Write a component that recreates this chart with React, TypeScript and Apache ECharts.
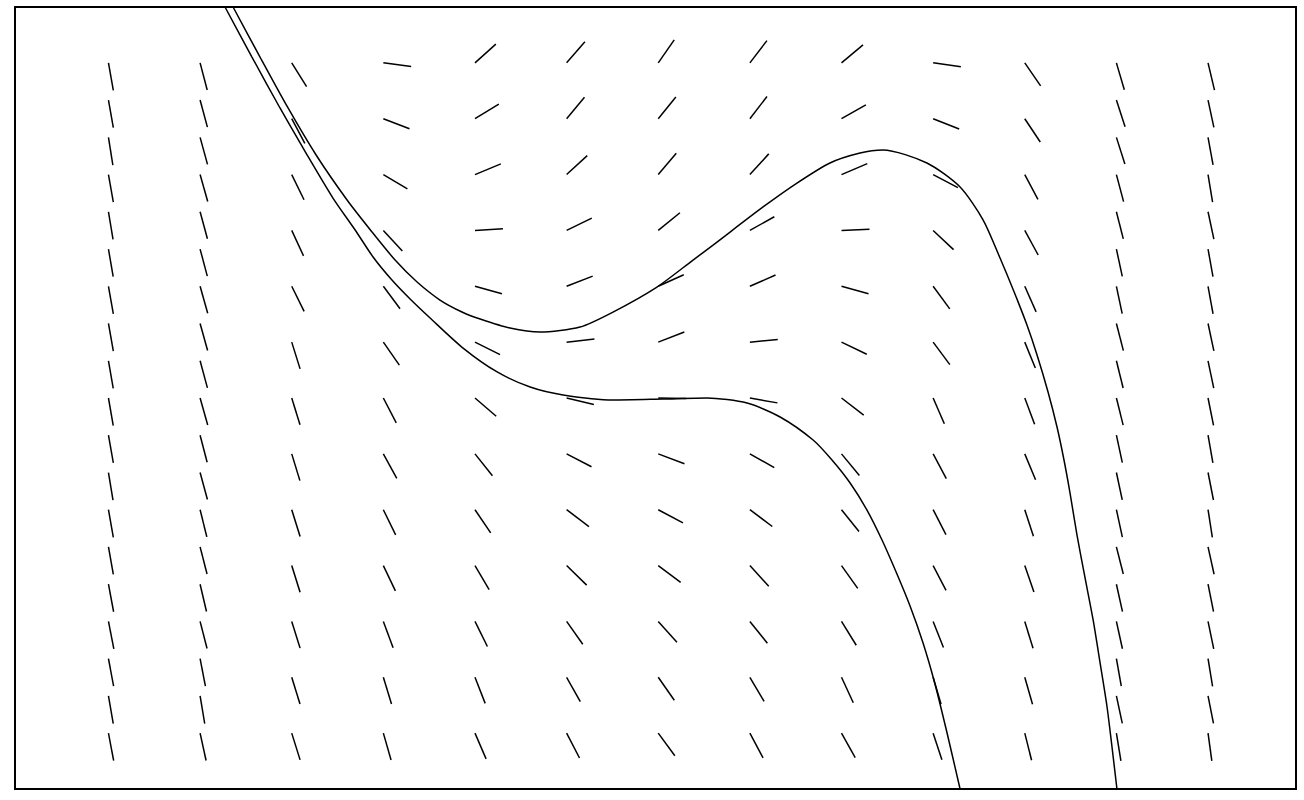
import React, { useEffect, useRef } from "react";
import * as echarts from "echarts";

// Grid of the slope field (data units)
const innerCols = [-2, -1.5, -1, -0.5, 0, 0.5, 1, 1.5, 2];
const innerRows = [3, 2.5, 2, 1.5, 1, 0.5, 0, -0.5, -1, -1.5, -2, -2.5, -3];
const outerCols = [-3, -2.5, 2.5, 3];
const outerRows = [
  3, 2.667, 2.333, 2, 1.667, 1.333, 1, 0.667, 0.333, 0,
  -0.333, -0.667, -1, -1.333, -1.667, -2, -2.333, -2.667, -3,
];

// Slopes (dy/dx) read at each grid point, top row first
const slopeXm3 = [-9.3, -9.3, -10.3, -9.3, -9.9, -9.6, -9.3, -9.3, -9.5, -9.5, -9.3, -10.0, -9.3, -9.3, -8.8, -8.4, -8.8, -9.5, -8.7];
const slopeXm25 = [-6.25, -6.06, -5.98, -5.8, -6.06, -6.17, -5.8, -5.9, -6.06, -5.8, -6.32, -6.06, -6.63, -6.4, -7.0, -6.4, -8.5, -9.8, -7.5];
const slopeXm2 = [-2.62, -3.1, -3.36, -3.54, -3.32, -5.24, -5.3, -5.37, -5.24, -5.24, -5.24, -5.3, -5.24];
const slopeXm15 = [-0.21, -0.63, -0.98, -1.78, -2.21, -2.36, -3.16, -3.0, -3.36, -3.44, -4.42, -5.4, -5.73];
const slopeXm1 = [1.47, 1.01, 0.68, 0.1, -0.46, -0.82, -1.41, -2.06, -2.42, -2.8, -3.32, -4.2, -3.8];
const slopeXm05 = [1.9, 1.98, 1.51, 0.8, 0.64, 0.19, -0.39, -0.85, -1.24, -1.6, -2.32, -2.93, -3.16];
const slopeX0 = [2.36, 2.03, 1.95, 1.34, 0.74, 0.64, -0.03, -0.62, -0.87, -1.23, -1.83, -2.34, -2.23];
const slopeX05 = [2.14, 2.13, 1.8, 0.92, 0.72, 0.16, -0.29, -0.92, -1.23, -1.8, -2.05, -2.78, -3.08];
const slopeX1 = [1.37, 0.93, 0.7, 0.07, -0.45, -0.79, -1.26, -1.98, -2.05, -2.31, -2.65, -3.54, -2.93];
const slopeX15 = [-0.23, -0.65, -0.87, -1.54, -2.23, -2.21, -3.77, -3.08, -3.19, -3.16, -4.14, -5.57, -4.98];
const slopeX2 = [-2.39, -2.47, -3.08, -3.01, -3.7, -4.04, -4.37, -3.93, -5.04, -4.75, -5.32, -5.7, -6.55];
const slopeX25 = [-5.57, -5.04, -5.16, -6.19, -6.47, -7.64, -7.78, -6.38, -6.63, -6.6, -7.6, -7.69, -7.53, -6.47, -7.37, -7.45, -9.28, -7.64, -10.07];
const slopeX3 = [-6.9, -7.7, -9.0, -10.0, -7.7, -9.2, -9.0, -7.7, -7.9, -8.2, -9.3, -8.3, -10.5, -7.4, -8.2, -7.9, -10.0, -8.3, -12.0];

const innerSlopes = [slopeXm2, slopeXm15, slopeXm1, slopeXm05, slopeX0, slopeX05, slopeX1, slopeX15, slopeX2];
const outerSlopes = [slopeXm3, slopeXm25, slopeX25, slopeX3];

// Solution curves (x, y)
const curveAX = [
  -2.32, -2.173, -2.02, -1.867, -1.698, -1.562, -1.436, -1.316, -1.191, -1.071, -0.972, -0.809,
  -0.645, -0.427, -0.247, -0.007, 0.19, 0.299, 0.572, 0.757, 0.937, 1.101, 1.226, 1.466, 1.647,
  1.773, 1.865, 1.942, 2.012, 2.067, 2.127, 2.176, 2.214, 2.247, 2.285, 2.329, 2.373, 2.411,
  2.449, 2.476, 2.503,
];
const curveAY = [
  3.5, 3.052, 2.596, 2.175, 1.772, 1.486, 1.235, 1.038, 0.877, 0.77, 0.707, 0.626,
  0.59, 0.635, 0.769, 0.993, 1.235, 1.369, 1.71, 1.924, 2.104, 2.193, 2.22, 2.104, 1.889,
  1.593, 1.253, 0.949, 0.653, 0.385, 0.054, -0.26, -0.555, -0.851, -1.227, -1.611, -1.987, -2.372,
  -2.766, -3.124, -3.5,
];
const curveBX = [
  -2.364, -2.217, -2.064, -1.922, -1.775, -1.654, -1.556, -1.458, -1.354, -1.245, -1.065, -0.879,
  -0.699, -0.519, -0.247, 0.026, 0.266, 0.485, 0.665, 0.845, 0.948, 1.047, 1.139, 1.221, 1.298,
  1.374, 1.445, 1.51, 1.576, 1.647,
];
const curveBY = [
  3.5, 3.052, 2.596, 2.193, 1.79, 1.504, 1.262, 1.065, 0.886, 0.716, 0.447, 0.233,
  0.098, 0.027, -0.018, -0.009, 0, -0.045, -0.17, -0.376, -0.555, -0.761, -1.003, -1.271, -1.558,
  -1.862, -2.193, -2.56, -2.999, -3.5,
];

export default function App() {
  const ref = useRef<HTMLDivElement>(null);

  useEffect(() => {
    document.body.style.margin = "0";
    document.body.style.background = "#fff";
    if (!ref.current) return;
    const chart = echarts.init(ref.current, null, { renderer: "svg" });

    const fieldData: number[][] = [];
    innerCols.forEach((x, ci) => {
      innerRows.forEach((y, ri) => fieldData.push([x, y, innerSlopes[ci][ri]]));
    });
    outerCols.forEach((x, ci) => {
      outerRows.forEach((y, ri) => fieldData.push([x, y, outerSlopes[ci][ri]]));
    });

    const curveA = curveAX.map((x, i) => [x, curveAY[i]]);
    const curveB = curveBX.map((x, i) => [x, curveBY[i]]);

    const axisCommon = {
      type: "value" as const,
      axisLine: { show: false },
      axisTick: { show: false },
      axisLabel: { show: false },
      splitLine: { show: false },
    };

    chart.setOption({
      animation: false,
      backgroundColor: "#fff",
      grid: {
        left: 15,
        top: 7,
        width: 1281,
        height: 782,
        show: true,
        borderColor: "#000",
        borderWidth: 2,
        backgroundColor: "transparent",
      },
      xAxis: { ...axisCommon, min: -3.51, max: 3.48 },
      yAxis: { ...axisCommon, min: -3.5, max: 3.5 },
      series: [
        {
          type: "custom",
          data: fieldData,
          encode: { x: 0, y: 1 },
          clip: true,
          renderItem: (_params: any, api: any) => {
            const x = api.value(0);
            const y = api.value(1);
            const s = api.value(2);
            const p0 = api.coord([x, y]);
            const p1 = api.coord([x + 1, y + s]);
            const dx = p1[0] - p0[0];
            const dy = p1[1] - p0[1];
            const len = Math.hypot(dx, dy) || 1;
            const L = 28;
            return {
              type: "line",
              shape: { x1: p0[0], y1: p0[1], x2: p0[0] + (L * dx) / len, y2: p0[1] + (L * dy) / len },
              style: { stroke: "#000", lineWidth: 1.5 },
            };
          },
        },
        {
          type: "line",
          data: curveA,
          smooth: 0.25,
          showSymbol: false,
          symbol: "none",
          clip: true,
          lineStyle: { color: "#000", width: 1.5 },
        },
        {
          type: "line",
          data: curveB,
          smooth: 0.25,
          showSymbol: false,
          symbol: "none",
          clip: true,
          lineStyle: { color: "#000", width: 1.5 },
        },
      ],
    });

    return () => chart.dispose();
  }, []);

  return <div ref={ref} style={{ width: 1304, height: 800 }} />;
}
